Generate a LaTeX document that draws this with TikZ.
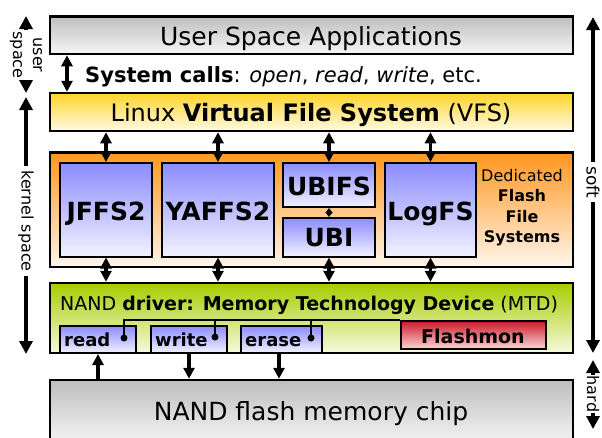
\documentclass[tikz,border=0pt]{standalone}
\usepackage{fontspec}
\setmainfont{DejaVu Sans}
\usetikzlibrary{arrows.meta}
\definecolor{gtop}{RGB}{190,190,190}
\definecolor{gbot}{RGB}{246,246,246}
\definecolor{ytop}{RGB}{255,212,42}
\definecolor{ybot}{RGB}{255,250,228}
\definecolor{otop}{RGB}{255,150,30}
\definecolor{obot}{RGB}{255,246,236}
\definecolor{btop}{RGB}{140,140,255}
\definecolor{bbot}{RGB}{242,242,255}
\definecolor{grtop}{RGB}{168,204,0}
\definecolor{grbot}{RGB}{246,250,222}
\definecolor{rtop}{RGB}{205,25,40}
\definecolor{rbot}{RGB}{250,215,215}
\begin{document}
\begin{tikzpicture}[x=1pt,y=-1pt,
  box/.style={draw=black, line width=2.5pt, inner sep=0pt},
  ibox/.style={draw=black, line width=2pt, inner sep=0pt, top color=btop, bottom color=bbot},
  gbox/.style={top color=gtop, bottom color=gbot},
  ybox/.style={top color=ytop, bottom color=ybot},
  obox/.style={top color=otop, bottom color=obot},
  grbox/.style={top color=grtop, bottom color=grbot},
  rbox/.style={draw=black, line width=2pt, inner sep=0pt, top color=rtop, bottom color=rbot},
  txt/.style={inner sep=0pt, anchor=base},
  fs/.style={font=\fontsize{#1}{20}\selectfont},
  sidelab/.style={inner sep=#1, rotate=-90, align=center},
  side/.style={line width=4pt, -{Triangle[width=13pt,length=13pt]}},
  dbl/.style={line width=3.5pt, {Triangle[width=11pt,length=11pt]}-{Triangle[width=11pt,length=11pt]}},
  sdbl/.style={line width=2pt, {Triangle[width=7pt,length=5pt]}-{Triangle[width=7pt,length=5pt]}},
  one/.style={line width=3.5pt, -{Triangle[width=11pt,length=11pt]}},
  bus/.style={line width=2pt}
]
\useasboundingbox (0,0) rectangle (602,437);

% main boxes
\node[box, gbox, minimum width=523pt, minimum height=37.5pt] (usr) at (311.5,35.25) {};
\node[txt, fs=25] (usrt) at (311,45) {User Space Applications};
\node[txt, fs=21, anchor=base west] (sys) at (85,82) {\textbf{System calls}: \textit{open}, \textit{read}, \textit{write}, etc.};

\node[box, ybox, minimum width=523pt, minimum height=38pt] (vfs) at (311.5,112) {};
\node[txt, fs=24] (vfst) at (311,121.5) {Linux \textbf{Virtual File System} (VFS)};

\node[box, obox, minimum width=523pt, minimum height=114.5pt] (ded) at (311.5,209.75) {};
\node[ibox, minimum width=92pt, minimum height=93.5pt] (jffs) at (106,209.75) {};
\node[ibox, minimum width=112pt, minimum height=93.5pt] (yaffs) at (218,209.75) {};
\node[ibox, minimum width=92pt, minimum height=44pt] (ubifs) at (329,185) {};
\node[ibox, minimum width=92pt, minimum height=38.5pt] (ubi) at (329,237.25) {};
\node[ibox, minimum width=91pt, minimum height=93.5pt] (logfs) at (430.5,209.75) {};
\node[txt, fs=25] (jffst) at (106,220) {\textbf{JFFS2}};
\node[txt, fs=25] (yaffst) at (218,220) {\textbf{YAFFS2}};
\node[txt, fs=25] (ubifst) at (329,195) {\textbf{UBIFS}};
\node[txt, fs=25] (ubit) at (329,246.5) {\textbf{UBI}};
\node[txt, fs=25] (logfst) at (430.5,220) {\textbf{LogFS}};
\node[txt, fs=16] (d1) at (522,181) {Dedicated};
\node[txt, fs=16] (d2) at (522,201.5) {\textbf{Flash}};
\node[txt, fs=16] (d3) at (522,222) {\textbf{File}};
\node[txt, fs=16] (d4) at (522,242.5) {\textbf{Systems}};

\node[box, grbox, minimum width=523pt, minimum height=70pt] (mtd) at (311.5,318) {};
\node[txt, fs=19, anchor=base west] (mtdt) at (60,310) {NAND \textbf{driver: Memory Technology Device} (MTD)};
\node[ibox, minimum width=76pt, minimum height=27pt] (rd) at (98,339.5) {};
\node[ibox, minimum width=76pt, minimum height=27pt] (wr) at (189,339.5) {};
\node[ibox, minimum width=81pt, minimum height=27pt] (er) at (281.5,339.5) {};
\node[txt, fs=18, anchor=base west] (rdt) at (64,346) {\textbf{read}};
\node[txt, fs=18, anchor=base west] (wrt) at (155,346) {\textbf{write}};
\node[txt, fs=18, anchor=base west] (ert) at (245,346) {\textbf{erase}};
\node[rbox, minimum width=145pt, minimum height=28pt] (fl) at (473.5,335) {};
\node[txt, fs=19] (flt) at (473,343) {\textbf{Flashmon}};

\node[box, gbox, minimum width=523pt, minimum height=65pt] (chip) at (311.5,412.5) {};
\node[txt, fs=25] (chipt) at (311,420) {NAND flash memory chip};

% bus from operations to Flashmon
\coordinate (rdot) at (124,338);
\coordinate (wdot) at (215,337);
\coordinate (edot) at (311,338);
\draw[bus] (rdot) |- (fl.north west);
\draw[bus] (wdot) -- (wdot |- fl.north west);
\draw[bus] (edot) -- (edot |- fl.north west);
\fill (rdot) circle (3.5pt) (wdot) circle (3.5pt) (edot) circle (3.5pt);

% vertical connectors
\draw[dbl] (67,0 |- usr.south) -- (67,0 |- vfs.north);
\foreach \n in {jffs,yaffs,ubifs,logfs}
  \draw[dbl] (\n.north |- vfs.south) -- (\n.north);
\foreach \n in {jffs,yaffs,ubi,logfs}
  \draw[dbl] (\n.south) -- (\n.south |- mtd.north);
\draw[sdbl] (ubifs.south) -- (ubi.north);
\draw[one] (rd.south |- chip.north) -- (rd.south);
\draw[one] (wr.south) -- (wr.south |- chip.north);
\draw[one] (279,0 |- er.south) -- (279,0 |- chip.north);

% side arrows
\node[sidelab=1pt, font=\fontsize{16}{20}\selectfont] (uslab) at (26,55) {user\\space};
\coordinate (usA) at (26,16);
\coordinate (usB) at (26,93);
\draw[side] (uslab) -- (usA);
\draw[side] (uslab) -- (usB);
\node[sidelab=4pt, fs=16] (kslab) at (26,221) {kernel space};
\coordinate (ksA) at (26,97);
\coordinate (ksB) at (26,354);
\draw[side] (kslab) -- (ksA);
\draw[side] (kslab) -- (ksB);
\node[sidelab=4pt, fs=17] (sflab) at (593,182) {soft};
\coordinate (sfA) at (593,17);
\coordinate (sfB) at (593,353);
\draw[side] (sflab) -- (sfA);
\draw[side] (sflab) -- (sfB);
\node[sidelab=1pt, fs=16] (hdlab) at (593,394) {hard};
\coordinate (hdA) at (593,360);
\coordinate (hdB) at (593,429);
\draw[side] (hdlab) -- (hdA);
\draw[side] (hdlab) -- (hdB);
\end{tikzpicture}
\end{document}
